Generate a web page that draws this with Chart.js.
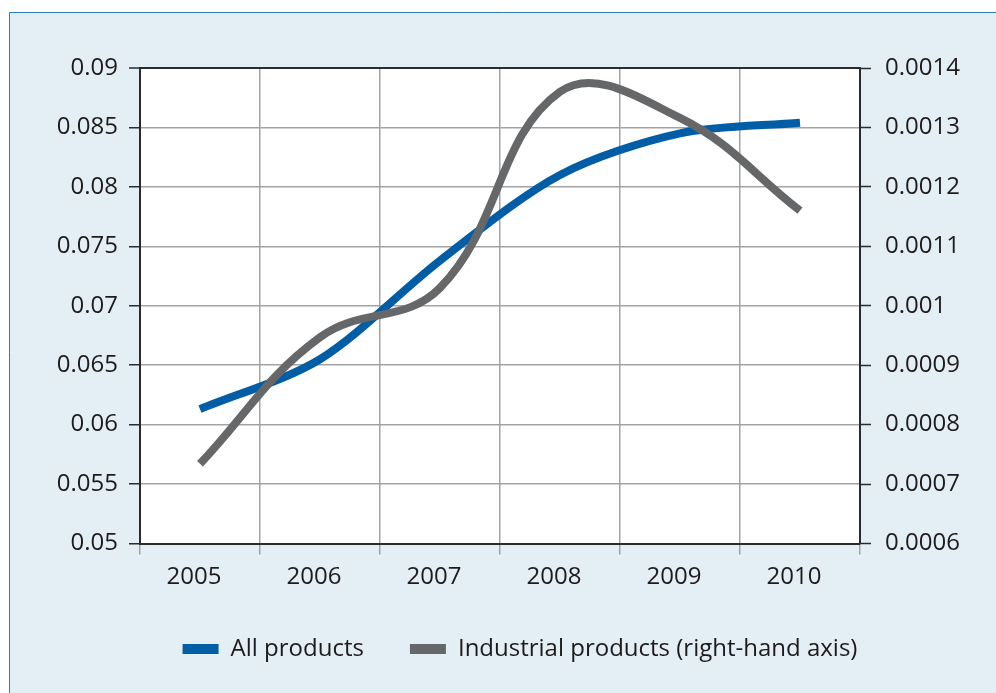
<!DOCTYPE html>
<html>
<head>
<meta charset="utf-8">
<script src="https://cdn.jsdelivr.net/npm/chart.js@4"></script>
<style>
html,body{margin:0;padding:0;background:#fff;}
#wrap{width:996px;height:693px;}
</style>
</head>
<body>
<div id="wrap"><canvas id="c" width="996" height="693"></canvas></div>
<script>
const years = ['2005', '2006', '2007', '2008', '2009', '2010'];
const allProducts = [0.0613, 0.0655, 0.0738, 0.0810, 0.0845, 0.0854];
const industrialProducts = [0.000734, 0.000947, 0.00103, 0.00136, 0.001316, 0.00116];
const seriesNames = ['All products', 'Industrial products (right-hand axis)'];
const leftRange = [0.05, 0.09, 0.005];
const rightRange = [0.0006, 0.0014, 0.0001];

const FONT = {family: "'Open Sans', sans-serif", size: 24};
const LEGEND_FONT = {family: "'Open Sans', sans-serif", size: 24};
const TXT = '#1e1b1c';
const GRID = '#a3a3a3';
const DARK = '#2b2b2b';

const bgPlugin = {
  id: 'bg',
  beforeDraw(chart) {
    const {ctx, chartArea: a} = chart;
    ctx.save();
    ctx.fillStyle = '#ffffff';
    ctx.fillRect(0, 0, chart.width, chart.height);
    ctx.fillStyle = '#e4eef5';
    ctx.fillRect(9.5, 12.5, chart.width - 9.5, chart.height - 12.5);
    ctx.strokeStyle = '#2a7cc0';
    ctx.lineWidth = 1;
    ctx.beginPath();
    ctx.moveTo(chart.width, 12.5);
    ctx.lineTo(9.5, 12.5);
    ctx.lineTo(9.5, chart.height);
    ctx.stroke();
    ctx.fillStyle = '#ffffff';
    ctx.fillRect(a.left, a.top, a.right - a.left, a.bottom - a.top);
    ctx.restore();
  }
};

new Chart(document.getElementById('c'), {
  type: 'line',
  data: {
    labels: years,
    datasets: [
      {label: seriesNames[0], data: allProducts, yAxisID: 'y', borderColor: '#005da6', backgroundColor: '#005da6',
       borderWidth: 8, pointRadius: 0, tension: 0.3, order: 1},
      {label: seriesNames[1], data: industrialProducts, yAxisID: 'y1', borderColor: '#666768', backgroundColor: '#666768',
       borderWidth: 8, pointRadius: 0, tension: 0.4, order: 0}
    ]
  },
  options: {
    responsive: false,
    maintainAspectRatio: false,
    animation: false,
    layout: {padding: {left: 44, right: 0, top: 68, bottom: 22}},
    plugins: {
      tooltip: {enabled: false},
      legend: {
        position: 'bottom',
        labels: {
          font: LEGEND_FONT, color: TXT, boxWidth: 36, boxHeight: 10, padding: 46,
          sort: (a, b) => a.datasetIndex - b.datasetIndex,
          generateLabels: (chart) => Chart.defaults.plugins.legend.labels.generateLabels(chart)
            .map(l => Object.assign(l, {lineWidth: 0, strokeStyle: 'rgba(0,0,0,0)'}))
        }
      }
    },
    scales: {
      x: {
        offset: true,
        grid: {offset: true, color: GRID, lineWidth: 1.5, tickLength: 11, tickColor: GRID, tickWidth: 1.5},
        border: {color: DARK, width: 2},
        ticks: {font: FONT, color: TXT, padding: 8, labelOffset: -6, maxRotation: 0},
        afterFit: (s) => { s.height = 47.5; }
      },
      y: {
        position: 'left',
        min: leftRange[0], max: leftRange[1],
        ticks: {stepSize: leftRange[2], font: FONT, color: TXT, padding: 11,
          callback: (v) => String(parseFloat(v.toFixed(4)))},
        grid: {color: (c) => (c.tick && Math.abs(c.tick.value - leftRange[1]) < 1e-9) ? DARK : GRID,
          lineWidth: (c) => (c.tick && Math.abs(c.tick.value - leftRange[1]) < 1e-9) ? 2 : 1.5,
          tickLength: 11, tickColor: DARK, tickWidth: 1.5},
        border: {color: DARK, width: 2},
        afterFit: (s) => { s.width = 96; }
      },
      y1: {
        position: 'right',
        min: rightRange[0], max: rightRange[1],
        ticks: {stepSize: rightRange[2], font: FONT, color: TXT, padding: 14,
          callback: (v) => String(parseFloat(v.toFixed(5)))},
        grid: {drawOnChartArea: false, tickLength: 11, tickColor: DARK, tickWidth: 1.5},
        border: {color: DARK, width: 2},
        afterFit: (s) => { s.width = 136; }
      }
    }
  },
  plugins: [bgPlugin]
});
</script>
</body>
</html>
